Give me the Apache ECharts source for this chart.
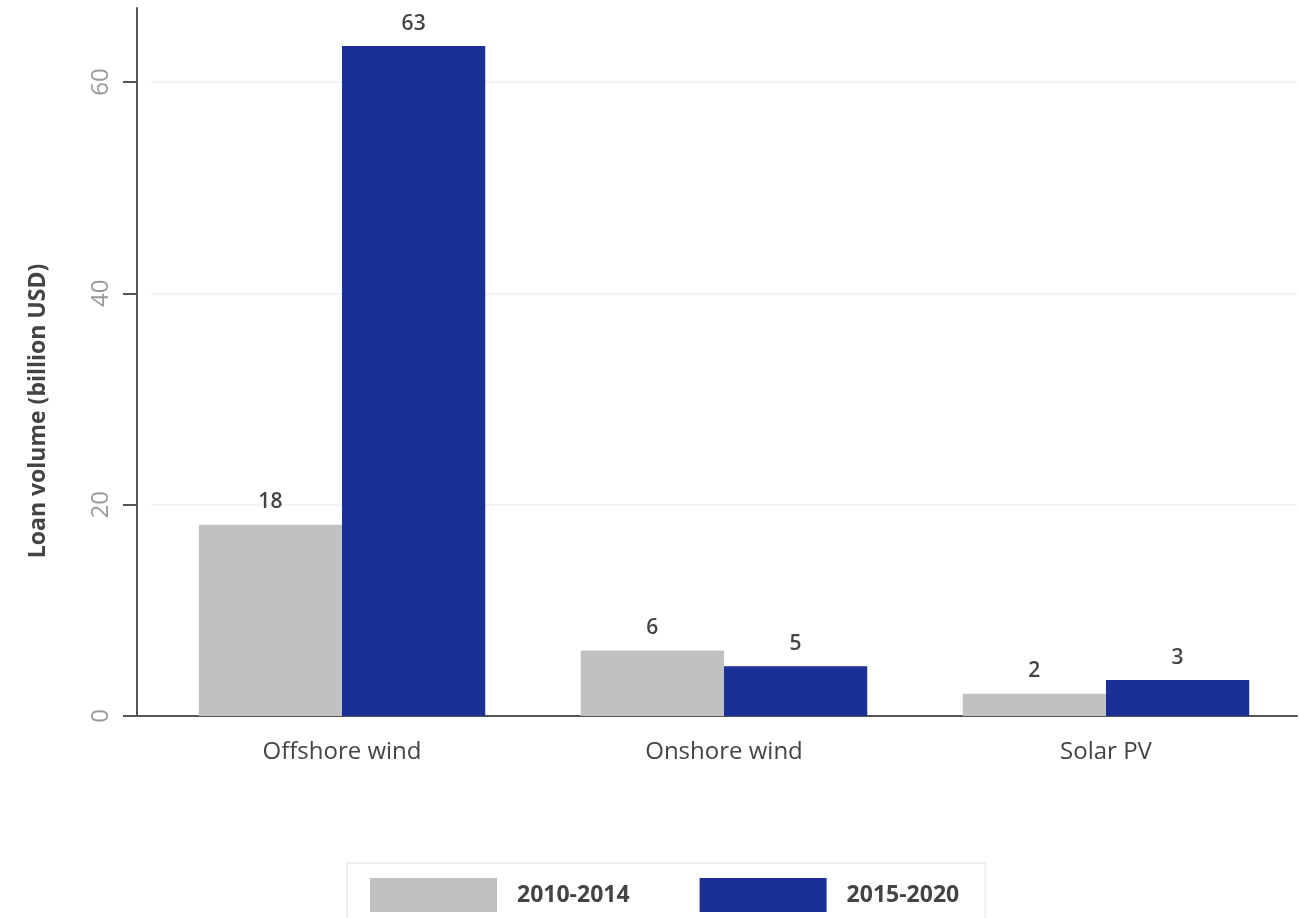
<!DOCTYPE html>
<html>
<head>
<meta charset="utf-8">
<script src="https://cdn.jsdelivr.net/npm/echarts@6/dist/echarts.min.js"></script>
<style>html,body{margin:0;padding:0;background:#fff}#c{width:1299px;height:918px}</style>
</head>
<body>
<div id="c"></div>
<script>
const categories = ['Offshore wind', 'Onshore wind', 'Solar PV'];
const seriesNames = ['2010-2014', '2015-2020'];
const values2010 = [18.1, 6.2, 2.1];
const values2015 = [63.4, 4.7, 3.4];
const yTicks = [0, 20, 40, 60];
const yAxisTitle = 'Loan volume (billion USD)';
const colors = ['#c1c1c3', '#1b3096'];

const chart = echarts.init(document.getElementById('c'));
const font = '"Open Sans", "Noto Sans", sans-serif';
const labelOpt = {
  show: true, position: 'top', distance: 12,
  color: '#444', fontSize: 21, fontWeight: 600, fontFamily: font,
  formatter: p => Math.round(p.value)
};
chart.setOption({
  animation: false,
  textStyle: { fontFamily: font },
  grid: { left: 151, right: 2, top: 8, bottom: 202 },
  legend: {
    data: seriesNames,
    left: 347, top: 863,
    itemWidth: 127, itemHeight: 34, itemGap: 70,
    padding: [15, 26, 15, 23],
    borderColor: '#e3ebeb', borderWidth: 1.5,
    icon: 'rect',
    textStyle: { color: '#444', fontSize: 23, fontWeight: 'bold', fontFamily: font, padding: [0, 0, 0, 15] }
  },
  xAxis: {
    type: 'category', data: categories,
    axisLine: { lineStyle: { color: '#555', width: 2 } },
    axisTick: { show: false },
    axisLabel: { color: '#444', fontSize: 24, margin: 24, fontFamily: font }
  },
  yAxis: {
    type: 'value', min: 0, max: 67, interval: 20, offset: 14,
    axisLine: { show: true, lineStyle: { color: '#555', width: 2 } },
    axisTick: { show: true, length: 14, lineStyle: { color: '#555', width: 2 }, customValues: yTicks },
    axisLabel: { color: '#999', fontSize: 24, rotate: 90, margin: 24, customValues: yTicks, fontFamily: font },
    splitLine: { show: true, lineStyle: { color: '#f1f1f1', width: 1.5 } }
  },
  graphic: [{
    type: 'line', shape: { x1: 136, y1: 716, x2: 152, y2: 716 },
    style: { stroke: '#555', lineWidth: 2 }, z: 10
  }, {
    type: 'text', x: 38, y: 411, rotation: Math.PI / 2,
    style: { text: yAxisTitle, fill: '#444', font: 'bold 23px ' + font, textAlign: 'center', textVerticalAlign: 'middle' }
  }],
  series: [
    { name: seriesNames[0], type: 'bar', data: values2010, barGap: '0%', barCategoryGap: '25%',
      itemStyle: { color: colors[0] }, label: labelOpt },
    { name: seriesNames[1], type: 'bar', data: values2015,
      itemStyle: { color: colors[1] }, label: labelOpt }
  ]
});
</script>
</body>
</html>
